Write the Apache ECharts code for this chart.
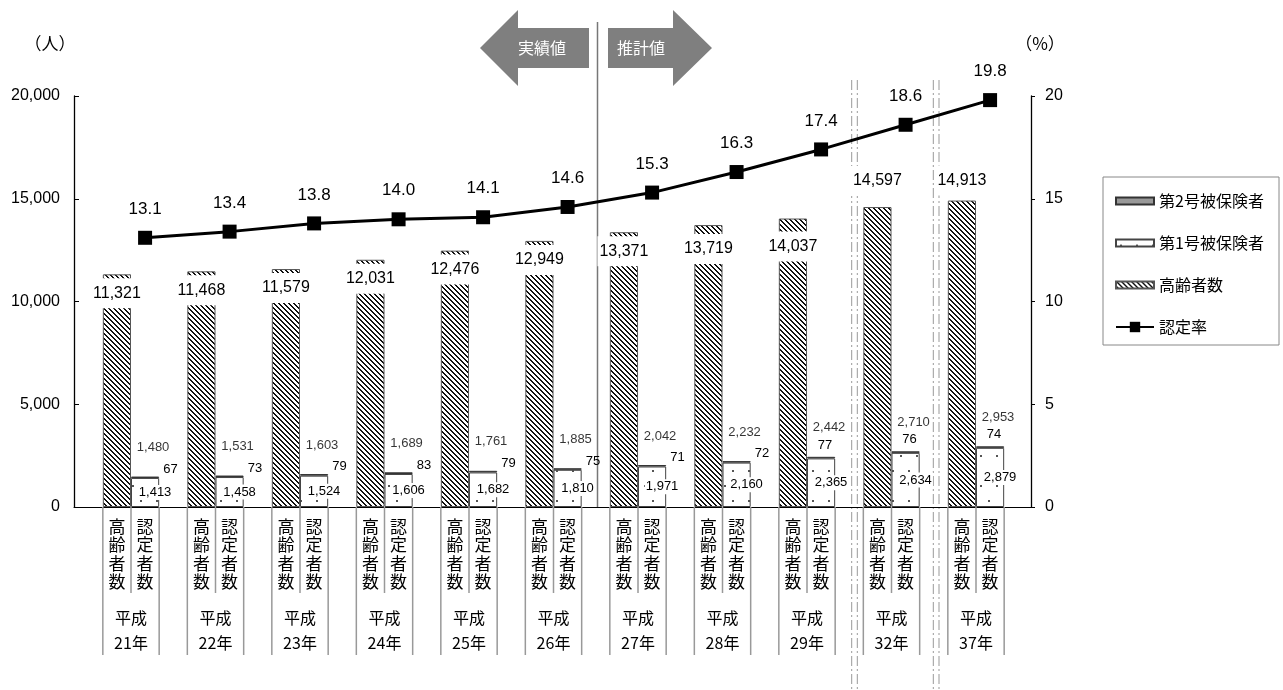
<!DOCTYPE html>
<html><head><meta charset="utf-8">
<script src="https://cdn.jsdelivr.net/npm/echarts@6/dist/echarts.min.js"></script>
<style>html,body{margin:0;padding:0;background:#fff}#c{width:1283px;height:690px}</style>
</head><body><div id="c"></div>
<script>
// ---------- data ----------
const categories = ['平成21年','平成22年','平成23年','平成24年','平成25年','平成26年','平成27年','平成28年','平成29年','平成32年','平成37年'];
const subLabels = ['高齢者数','認定者数'];
const elderly = [11321,11468,11579,12031,12476,12949,13371,13719,14037,14597,14913];
const insured1 = [1413,1458,1524,1606,1682,1810,1971,2160,2365,2634,2879];
const insured2 = [67,73,79,83,79,75,71,72,77,76,74];
const certifiedTotal = [1480,1531,1603,1689,1761,1885,2042,2232,2442,2710,2953];
const certRate = [13.1,13.4,13.8,14.0,14.1,14.6,15.3,16.3,17.4,18.6,19.8];
const leftTicks = [0,5000,10000,15000,20000];
const rightTicks = [0,5,10,15,20];
const seriesNames = ['第2号被保険者','第1号被保険者','高齢者数','認定率'];

// ---------- styles ----------
const FONT = '"Liberation Sans", Arial, "Noto Sans CJK JP", sans-serif';
const JFONT = '"Noto Sans CJK JP", "Liberation Sans", sans-serif';
function hatchPattern(){
  const n=5;
  const c=document.createElement('canvas'); c.width=n; c.height=n;
  const g=c.getContext('2d'); g.fillStyle='#fff'; g.fillRect(0,0,n,n);
  g.fillStyle='#111';
  for(let y=0;y<n;y++){ g.fillRect(y%n,y,1,1); g.fillRect((y+1)%n,y,1,1); }
  return c;
}
function dotPattern(){
  const c=document.createElement('canvas'); c.width=16; c.height=30;
  const g=c.getContext('2d'); g.fillStyle='#fff'; g.fillRect(0,0,16,30);
  g.fillStyle='#555'; g.fillRect(4,5,2,2); g.fillRect(12,20,2,2);
  return c;
}
const fmt = v => v.toLocaleString('en-US');
const fmtCat = (v) => {
  const era = v.slice(0,2), yr = v.slice(2);
  const rows = [];
  for (let k=0;k<4;k++) rows.push('{c|'+subLabels[0][k]+'}{c|'+subLabels[1][k]+'}');
  rows.push('{g| }'); rows.push('{d|'+era+'}'); rows.push('{d|'+yr+'}');
  return rows.join('\n');
};
const BW = '33.33%';
const subOffset = 2/3; // centre of the second bar inside a category (value-axis units)

const chart = echarts.init(document.getElementById('c'), null, {renderer:'canvas'});
const option = {
  animation:false,
  backgroundColor:'#fff',
  textStyle:{fontFamily:FONT},
  grid:[
    {left:74, right:252, top:96, bottom:183},
    {left:88.75, right:264.75, top:96, bottom:183}
  ],
  xAxis:[
    {gridIndex:0, type:'value', min:0, max:1, axisLine:{show:true, lineStyle:{color:'#000', width:1}}, axisTick:{show:false}, axisLabel:{show:false}, splitLine:{show:false}},
    {gridIndex:1, type:'category', data:categories, axisLine:{show:false}, axisTick:{show:false},
      axisLabel:{interval:0, margin:10, formatter:fmtCat, color:'#000',
        rich:{
          c:{width:28, align:'center', fontSize:17, lineHeight:18.5, fontFamily:JFONT, color:'#000'},
          g:{lineHeight:14, fontSize:10},
          d:{align:'center', fontSize:16, lineHeight:25, fontFamily:JFONT, color:'#000'}
        }}},
    {gridIndex:1, type:'value', min:0, max:categories.length, show:false}
  ],
  yAxis:[
    {gridIndex:0, type:'value', min:leftTicks[0], max:leftTicks[leftTicks.length-1], interval:leftTicks[1]-leftTicks[0],
      axisLine:{show:true, lineStyle:{color:'#000', width:1.3}}, axisTick:{show:true, inside:true, length:5, lineStyle:{color:'#000'}},
      axisLabel:{margin:14, fontSize:16, color:'#000', formatter:fmt}, splitLine:{show:false}},
    {gridIndex:0, type:'value', position:'right', min:rightTicks[0], max:rightTicks[rightTicks.length-1], interval:rightTicks[1]-rightTicks[0],
      axisLine:{show:true, lineStyle:{color:'#000', width:1.3}}, axisTick:{show:true, inside:false, length:4, lineStyle:{color:'#000'}},
      axisLabel:{margin:14, fontSize:16, color:'#000'}, splitLine:{show:false}},
    {gridIndex:1, type:'value', min:leftTicks[0], max:leftTicks[leftTicks.length-1], show:false},
    {gridIndex:1, type:'value', min:rightTicks[0], max:rightTicks[rightTicks.length-1], show:false}
  ],
  legend:[
    {data:seriesNames.slice(0,3), orient:'vertical', left:1110, top:188, itemWidth:38, itemHeight:7, itemGap:26, icon:'rect',
      textStyle:{fontSize:16, fontFamily:JFONT, color:'#000'}},
    {data:[seriesNames[3]], orient:'vertical', left:1110, top:314, itemWidth:38, itemHeight:13, itemGap:26,
      textStyle:{fontSize:16, fontFamily:JFONT, color:'#000'}}
  ],
  series:[
    {name:'区切り', type:'custom', xAxisIndex:1, yAxisIndex:2, silent:true, clip:false, z:1,
      data:categories.map((_,i)=>[i,0]),
      renderItem:(params, api)=>{
        const p=api.coord([api.value(0),0]); const bw=api.size([1,0])[0]; const w=bw/3;
        const st={stroke:'#999', lineWidth:1.5, fill:null};
        return {type:'group', children:[
          {type:'line', shape:{x1:p[0]-w, y1:p[1], x2:p[0]-w, y2:p[1]+148}, style:st},
          {type:'line', shape:{x1:p[0], y1:p[1], x2:p[0], y2:p[1]+86}, style:st},
          {type:'line', shape:{x1:p[0]+w, y1:p[1], x2:p[0]+w, y2:p[1]+148}, style:st}
        ]};
      }},
    {name:seriesNames[2], type:'bar', xAxisIndex:1, yAxisIndex:2, barWidth:BW, barGap:'0%', z:2,
      itemStyle:{color:{image:hatchPattern(), repeat:'repeat'}, borderColor:'#555', borderWidth:1},
      data:elderly.map((v,i)=>({value:v, label: i < categories.length-2
        ? {position:'insideTop', distance:4, offset:[0, i===7?5:(i===8?9:0)]}
        : {position:'top', distance:i===categories.length-2?11:5}})),
      label:{show:true, formatter:p=>fmt(p.value), fontSize:16, color:'#000', backgroundColor:'#fff', padding:[7,2]}},
    {name:seriesNames[1], type:'bar', stack:'nin', xAxisIndex:1, yAxisIndex:2, barWidth:BW, barGap:'0%', z:2,
      itemStyle:{color:{image:dotPattern(), repeat:'repeat'}, borderColor:'#444', borderWidth:1},
      data:insured1,
      label:{show:true, position:'inside', offset:[10,0], formatter:p=>fmt(p.value), fontSize:13, color:'#000', backgroundColor:'#fff', padding:[1,1]}},
    {name:seriesNames[0], type:'bar', stack:'nin', xAxisIndex:1, yAxisIndex:2, barWidth:BW, barGap:'0%', z:3,
      itemStyle:{color:'#999', borderColor:'#333', borderWidth:1},
      data:insured2.map((v,i)=>({value:v, label: i<8 ? {position:'right', distance:4, offset:[0,-8]} : {position:'top', distance:5, offset:[4,0]}})),
      label:{show:true, formatter:p=>fmt(p.value), fontSize:13, color:'#000'}},
    {name:'認定者数計', type:'scatter', xAxisIndex:2, yAxisIndex:2, symbolSize:1, itemStyle:{color:'rgba(0,0,0,0)'}, silent:true, z:4,
      data:certifiedTotal.map((v,i)=>[i+subOffset, v]),
      label:{show:true, position:'top', distance:22, offset:[8,0], formatter:p=>fmt(p.value[1]), fontSize:13, color:'#000'}},
    {name:seriesNames[3], type:'line', xAxisIndex:2, yAxisIndex:3, z:10,
      symbol:'rect', symbolSize:14,
      lineStyle:{color:'#000', width:3}, itemStyle:{color:'#000'},
      data:certRate.map((v,i)=>[i+subOffset, v]),
      label:{show:true, position:'top', distance:13, fontSize:17, color:'#000', formatter:p=>p.value[1].toFixed(1)}}
  ],
  graphic:[
    {type:'polygon', shape:{points:[[480,48],[518,10],[518,28],[589,28],[589,68],[518,68],[518,86]]}, style:{fill:'#7f7f7f'}, z:1},
    {type:'text', x:542, y:48, style:{text:'実績値', fill:'#fff', font:'16px '+JFONT, textAlign:'center', textVerticalAlign:'middle'}, z:2},
    {type:'polygon', shape:{points:[[608,28],[673,28],[673,10],[712,48],[673,86],[673,68],[608,68]]}, style:{fill:'#7f7f7f'}, z:1},
    {type:'text', x:641, y:48, style:{text:'推計値', fill:'#fff', font:'16px '+JFONT, textAlign:'center', textVerticalAlign:'middle'}, z:2},
    {type:'line', shape:{x1:597.5, y1:22, x2:597.5, y2:507}, style:{stroke:'#777', lineWidth:1.5}, z:0},
    {type:'line', shape:{x1:851.7, y1:80, x2:851.7, y2:690}, style:{stroke:'#999', lineWidth:1, lineDash:[10,3,2,3]}, z:0},
    {type:'line', shape:{x1:857.3, y1:80, x2:857.3, y2:690}, style:{stroke:'#999', lineWidth:1, lineDash:[10,3,2,3]}, z:0},
    {type:'line', shape:{x1:933.3, y1:80, x2:933.3, y2:690}, style:{stroke:'#999', lineWidth:1, lineDash:[10,3,2,3]}, z:0},
    {type:'line', shape:{x1:939, y1:80, x2:939, y2:690}, style:{stroke:'#999', lineWidth:1, lineDash:[10,3,2,3]}, z:0},
    {type:'text', x:50, y:44, style:{text:'（人）', fill:'#000', font:'17px '+JFONT, textAlign:'center', textVerticalAlign:'middle'}},
    {type:'text', x:1040, y:44, style:{text:'（%）', fill:'#000', font:'17px '+JFONT, textAlign:'center', textVerticalAlign:'middle'}},
    {type:'rect', shape:{x:1103, y:177, width:176, height:168}, style:{fill:null, stroke:'#888', lineWidth:1}}
  ]
};
chart.setOption(option);
</script></body></html>
